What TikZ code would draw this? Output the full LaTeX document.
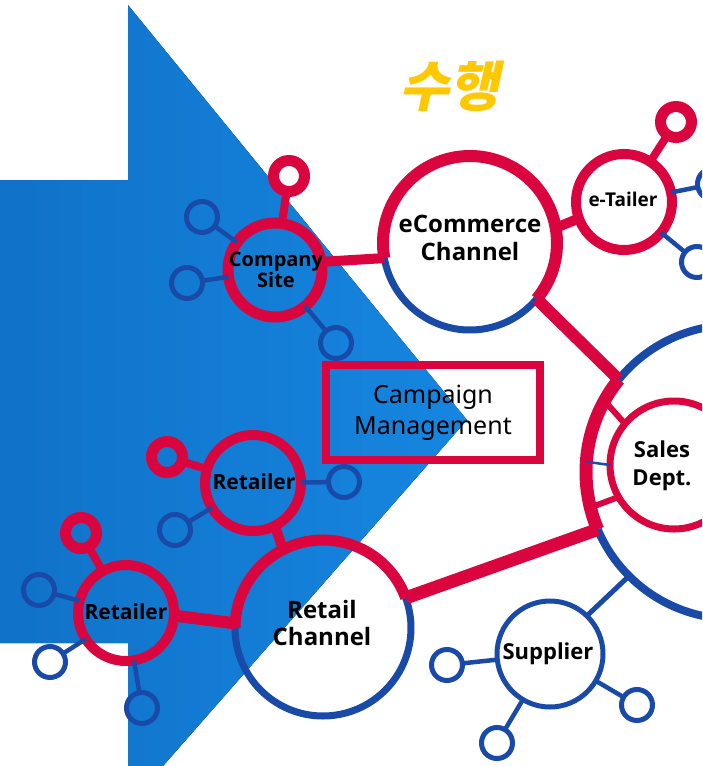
\documentclass[tikz,border=0pt]{standalone}
\usepackage{fontspec}
\setmainfont{Noto Sans}
\newfontfamily\lblf{Open Sans}
\newfontfamily\kr{Noto Sans CJK KR}[FakeSlant=0.22]
\definecolor{cred}{RGB}{218,4,62}
\definecolor{cblue}{RGB}{26,74,168}
\definecolor{cbluel}{RGB}{90,130,210}
\definecolor{arrowA}{RGB}{16,114,200}
\definecolor{arrowB}{RGB}{22,134,224}
\definecolor{cyel}{RGB}{255,200,0}
\begin{document}
\begin{tikzpicture}[x=1pt,y=-1pt,
  every node/.style={inner sep=0pt,outer sep=0pt},
  big/.style={circle,minimum size=#1},
  redring/.style={big=#1,draw=cred,line width=10},
  bluering/.style={big=#1,draw=cblue,line width=5},
  rsmall/.style={circle,minimum size=31,draw=cred,line width=11},
  bsmall/.style={circle,minimum size=31,draw=cblue,line width=5},
  rstem/.style={draw=cred,line width=8},
  bstem/.style={draw=cblue,line width=4.5},
  rlink/.style={draw=cred,line width=#1},
  rarc/.style={draw=cred,line width=#1},
  barc/.style={draw=cblue,line width=#1},
  lbl/.style 2 args={font=\lblf\bfseries\fontsize{#1}{#2}\selectfont,align=center,text=black},
]
\useasboundingbox (0,0) rectangle (702,766);
\begin{scope}
\clip (0,0) rectangle (702,766);
% arrow
\fill[left color=arrowA,right color=arrowB]
  (0,180) -- (128,180) -- (128,5) -- (467,420) -- (163,766) -- (128,766)
  -- (128,643) -- (0,643) -- cycle;

% title
\node[text=cyel,font=\kr\bfseries\fontsize{54}{60}\selectfont] (title) at (449,86) {수행};

% main circles (geometry holders)
\node[big=174] (ecom) at (470,243) {};
\node[big=294] (hub) at (733,472) {};
\node[big=176] (rc) at (323,628) {};
\node[redring=94,line width=11] (cs) at (275,270) {};
\node[redring=96] (et) at (624,202) {};
\node[redring=96] (r1) at (253,483) {};
\node[redring=96] (r2) at (126,613) {};
\node[redring=128,line width=7] (sd) at (674,465) {};
\node[bluering=106] (sup) at (550,654) {};

% two-colour arcs
\draw[rarc=12] (ecom.center) ++(40:87) arc[start angle=40,end angle=-190,radius=87];
\draw[barc=7] (ecom.center) ++(-190:87) arc[start angle=-190,end angle=-320,radius=87];
\draw[rarc=13] (hub.center) ++(-141:147) arc[start angle=-141,end angle=-203,radius=147];
\draw[barc=8] (hub.center) ++(-50:147) arc[start angle=-50,end angle=-141,radius=147];
\draw[barc=8] (hub.center) ++(-203:147) arc[start angle=-203,end angle=-300,radius=147];
\draw[rarc=11] (rc.center) ++(-20:88) arc[start angle=-20,end angle=-180,radius=88];
\draw[barc=7] (rc.center) ++(-180:88) arc[start angle=-180,end angle=-380,radius=88];

% small satellites
\node[rsmall] (cs-r) at (289,176) {};
\node[bsmall] (cs-b1) at (202,217) {};
\node[bsmall] (cs-b2) at (187,283) {};
\node[bsmall] (cs-b3) at (336,343) {};
\node[rsmall] (et-r) at (676,122) {};
\node[bsmall] (et-b1) at (713,184) {};
\node[bsmall] (et-b2) at (697,262) {};
\node[rsmall] (r1-r) at (167,457) {};
\node[bsmall] (r1-b1) at (175,530) {};
\node[bsmall] (r1-b2) at (344,482) {};
\node[rsmall] (r2-r) at (81,533) {};
\node[bsmall] (r2-b1) at (39,590) {};
\node[bsmall] (r2-b2) at (50,662) {};
\node[bsmall] (r2-b3) at (142,708) {};
\node[bsmall] (sup-b1) at (447,665) {};
\node[bsmall] (sup-b2) at (637,705) {};
\node[bsmall] (sup-b3) at (497,743) {};

% stems
\draw[rstem] (cs-r) -- (cs);
\draw[bstem] (cs-b1) -- (cs);
\draw[bstem] (cs-b2) -- (cs);
\draw[bstem] (cs-b3) -- (cs);
\draw[rstem] (et-r) -- (et);
\draw[bstem] (et-b1) -- (et);
\draw[bstem] (et-b2) -- (et);
\draw[rstem] (r1-r) -- (r1);
\draw[bstem] (r1-b1) -- (r1);
\draw[bstem] (r1-b2) -- (r1);
\draw[rstem] (r2-r) -- (r2);
\draw[bstem] (r2-b1) -- (r2);
\draw[bstem] (r2-b2) -- (r2);
\draw[bstem] (r2-b3) -- (r2);
\draw[bstem] (sup-b1) -- (sup);
\draw[bstem] (sup-b2) -- (sup);
\draw[bstem] (sup-b3) -- (sup);

% links
\draw[rlink=10] (cs.10) -- (ecom.190);
\draw[rlink=10] (ecom.10) -- (et.200);
\draw[rlink=12] (ecom.-40) -- (hub.141);
\draw[rlink=13] (rc.20) -- (hub.203);
\draw[rlink=10] (r1.-63) -- (rc.117);
\draw[rlink=12] (r2.-3) -- (rc.177);
\draw[rlink=6] (hub.151) -- (sd.140);
\draw[rlink=6] (hub.194) -- (sd.210);
\draw[bstem,line width=2.5] (hub.176) -- (sd.180);
\draw[bstem,line width=5] (hub.225) -- (sup.46);

% campaign box
\node[draw=cred,line width=8,minimum width=214,minimum height=95,
  font=\fontsize{25}{31}\selectfont,align=center] (cm) at (433,412.5) {Campaign\\Management};

% labels
\node[lbl={20}{21}] (t-cs) at (276,270) {Company\\Site};
\node[lbl={24}{28}] (t-ecom) at (470,238) {eCommerce\\Channel};
\node[lbl={19}{24}] (t-et) at (623,199) {e-Tailer};
\node[lbl={21}{26}] (t-r1) at (254,482) {Retailer};
\node[lbl={21}{26}] (t-r2) at (126,612) {Retailer};
\node[lbl={24}{27}] (t-rc) at (322,623) {Retail\\Channel};
\node[lbl={22}{26}] (t-sup) at (548,654) {Supplier};
\node[lbl={22}{28}] (t-sd) at (662,466) {Sales\\Dept.};
\end{scope}
\end{tikzpicture}
\end{document}
